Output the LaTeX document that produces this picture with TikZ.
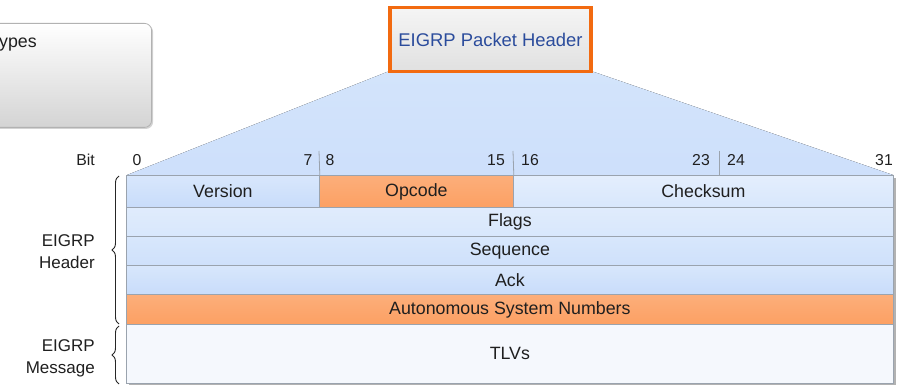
\documentclass[tikz,border=0pt]{standalone}
\usepackage{fontspec}
\setmainfont{Liberation Sans}
\usetikzlibrary{decorations.pathreplacing,shadows}
\definecolor{rowblue}{HTML}{C8DCFA}
\definecolor{rowbluelt}{HTML}{D8E7FC}
\definecolor{orangefill}{HTML}{FCA063}
\definecolor{orangeedge}{HTML}{F26A10}
\definecolor{trapblue}{HTML}{D3E4FB}
\definecolor{tlvfill}{HTML}{F5F8FD}
\definecolor{titleblue}{HTML}{2B4C9C}
\definecolor{sepgray}{HTML}{9AA3AE}
\tikzset{
  cell/.style={draw=sepgray, line width=0.8pt, anchor=north west, inner sep=0pt,
    font=\fontsize{17.8}{20}\selectfont, text=black!88},
  bluecell/.style={cell, top color=rowbluelt, bottom color=rowblue},
  orangecell/.style={cell, top color=orangefill!85!white, bottom color=orangefill},
  bitlbl/.style={font=\fontsize{15.8}{18}\selectfont, text=black!88, inner sep=0pt},
  sidelbl/.style={font=\fontsize{17}{19}\selectfont, text=black!88, align=right, inner sep=0pt, anchor=east},
  tickline/.style={draw=sepgray, line width=0.8pt},
  bracestyle/.style={draw=black!85, line width=0.9pt, decorate, decoration={brace, amplitude=7pt, mirror}},
}
\begin{document}
\begin{tikzpicture}[x=1pt,y=-1pt]
\useasboundingbox (0,0) rectangle (903,385);
% left gray box (cut off)
\node[draw=gray!60, line width=0.8pt, rounded corners=7pt, top color=white, bottom color=black!17,
  drop shadow={shadow xshift=1.5pt, shadow yshift=-1.5pt, opacity=0.35},
  minimum width=180pt, minimum height=104pt, anchor=north east, inner sep=0pt] (typesbox) at (152,23) {};
\node[font=\fontsize{17.8}{20}\selectfont, text=black!88, anchor=west, inner sep=0pt] (typeslbl) at (-1,45) {ypes};
% trapezoid
\fill[top color=trapblue, bottom color=rowblue!90!white] (387,72) -- (594,72) -- (893,175) -- (127,175) -- cycle;
% orange title box
\node[draw=orangeedge, line width=3.2pt, top color=white!96!black, bottom color=black!12,
  minimum width=201pt, minimum height=64pt, inner sep=0pt,
  font=\fontsize{18.4}{20}\selectfont, text=titleblue] (title) at (490.5,39.5) {EIGRP Packet Header};
% shadow of table
\fill[black!30] (129,178) rectangle (896,386);
% row 1
\node[bluecell, minimum width=193pt, minimum height=32pt] (version) at (126,175) {Version};
\node[orangecell, minimum width=194pt, minimum height=32pt] (opcode) at (319,175) {Opcode};
\node[bluecell, top color=rowbluelt!70!white, bottom color=rowbluelt, minimum width=380pt, minimum height=32pt] (checksum) at (513,175) {Checksum};
\node[bluecell, top color=rowbluelt!80!white, bottom color=rowbluelt, minimum width=767pt, minimum height=29pt] (flags) at (126,207) {Flags};
\node[bluecell, top color=rowbluelt, bottom color=rowblue!60!rowbluelt, minimum width=767pt, minimum height=29pt] (sequence) at (126,236) {Sequence};
\node[bluecell, minimum width=767pt, minimum height=29pt] (ack) at (126,265) {Ack};
\node[orangecell, minimum width=767pt, minimum height=30pt] (asn) at (126,294) {Autonomous System Numbers};
\node[cell, fill=tlvfill, minimum width=767pt, minimum height=59pt] (tlvs) at (126,324) {TLVs};
% bit numbers
\node[bitlbl, anchor=east] (bit) at (95,160) {Bit};
\node[bitlbl] (b0) at (137,160) {0};
\node[bitlbl] (b7) at (308,160) {7};
\node[bitlbl] (b8) at (330,160) {8};
\node[bitlbl] (b15) at (496,160) {15};
\node[bitlbl] (b16) at (530,160) {16};
\node[bitlbl] (b23) at (701,160) {23};
\node[bitlbl] (b24) at (736,160) {24};
\node[bitlbl] (b31) at (884,160) {31};
\coordinate (t1) at (319,151); \coordinate (t2) at (513,151); \coordinate (t3) at (719,151);
\draw[tickline] (t1) -- (version.north east);
\draw[tickline] (t2) -- (opcode.north east);
\draw[tickline] (t3) -- (719,175);
% braces
\coordinate (hb1) at (119,176); \coordinate (hb2) at (119,324);
\coordinate (mb1) at (119,326); \coordinate (mb2) at (119,384);
\draw[bracestyle] (hb1) -- (hb2);
\draw[bracestyle] (mb1) -- (mb2);
\node[sidelbl] (hdrlbl) at (95,252) {EIGRP\\[3pt]Header};
\node[sidelbl] (msglbl) at (95,358) {EIGRP\\[3pt]Message};
\end{tikzpicture}
\end{document}
